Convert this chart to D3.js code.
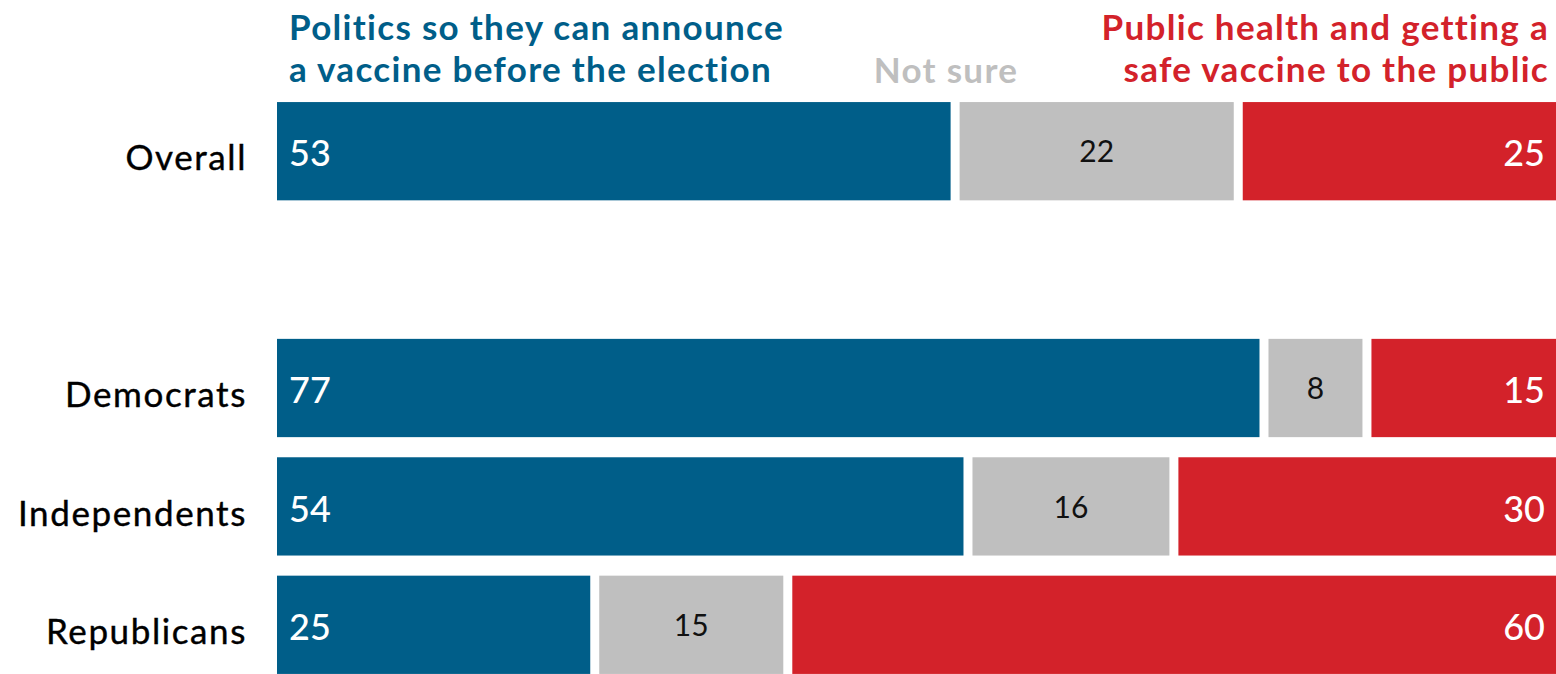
<!DOCTYPE html>
<html><head><meta charset="utf-8">
<script src="https://cdn.jsdelivr.net/npm/d3@7"></script>
<style>body{margin:0;background:#fff}svg{display:block}</style>
</head><body>
<svg id="c" width="1556" height="674"></svg>
<script>
const categories = ["Overall", "", "Democrats", "Independents", "Republicans"];
const politics = [53, null, 77, 54, 25];
const notSure = [22, null, 8, 16, 15];
const publicHealth = [25, null, 15, 30, 60];
const seriesNames = ["Politics so they can announce\na vaccine before the election", "Not sure", "Public health and getting a\nsafe vaccine to the public"];
const colors = ["#005e89", "#bfbfbf", "#d3222a"];
const valueColors = ["#ffffff", "#111111", "#ffffff"];

const svg = d3.select("#c");
const font = "Lato, 'Noto Sans', sans-serif";
const x = d3.scaleLinear().domain([0, 100]).range([273, 1560]);
const y = d3.scaleBand().domain(categories).range([92, 684]).paddingInner(0.17).paddingOuter(0.085);
const gap = 9;

const rows = categories.map((c, i) => ({c, vals: [politics[i], notSure[i], publicHealth[i]]})).filter(r => r.c !== "");

rows.forEach(r => {
  let cum = 0;
  r.vals.forEach((v, j) => {
    const x0 = j === 0 ? x(0) + 4 : x(cum) + gap / 2;
    const x1 = j === 2 ? 1556 : x(cum + v) - gap / 2;
    svg.append("rect").attr("x", x0).attr("y", y(r.c)).attr("width", x1 - x0)
      .attr("height", y.bandwidth()).attr("fill", colors[j]);
    const cy = y(r.c) + y.bandwidth() / 2;
    const t = svg.append("text").attr("y", cy).text(v)
      .attr("font-family", font).attr("fill", valueColors[j]);
    if (j === 0) t.attr("x", x0 + 12).attr("font-size", 36).attr("font-weight", 500).attr("dy", "0.42em");
    else if (j === 1) t.attr("x", (x0 + x1) / 2).attr("text-anchor", "middle").attr("font-size", 30).attr("font-weight", 400).attr("dy", "0.37em");
    else t.attr("x", 1545).attr("text-anchor", "end").attr("font-size", 36).attr("font-weight", 500).attr("dy", "0.42em");
    cum += v;
  });
  svg.append("text").attr("x", 247).attr("y", y(r.c) + y.bandwidth() / 2).attr("dy", "0.55em")
    .attr("text-anchor", "end").attr("font-family", font).attr("font-size", 35).attr("letter-spacing", 1.6)
    .attr("fill", "#000").attr("stroke", "#000").attr("stroke-width", 0.4).text(r.c);
});

// headers
const hdr = (t) => t.attr("font-family", font).attr("font-size", 35).attr("font-weight", 700).attr("letter-spacing", 1.3);
const h1 = hdr(svg.append("text")).attr("fill", colors[0]);
seriesNames[0].split("\n").forEach((l, i) => h1.append("tspan").attr("x", 289).attr("y", 40 + i * 42).text(l));
hdr(svg.append("text")).attr("fill", colors[1])
  .attr("x", 946).attr("y", 83).attr("text-anchor", "middle").text(seriesNames[1]);
const h3 = hdr(svg.append("text")).attr("fill", colors[2]).attr("text-anchor", "end");
seriesNames[2].split("\n").forEach((l, i) => h3.append("tspan").attr("x", 1549).attr("y", 40 + i * 42).text(l));
</script>
</body></html>
